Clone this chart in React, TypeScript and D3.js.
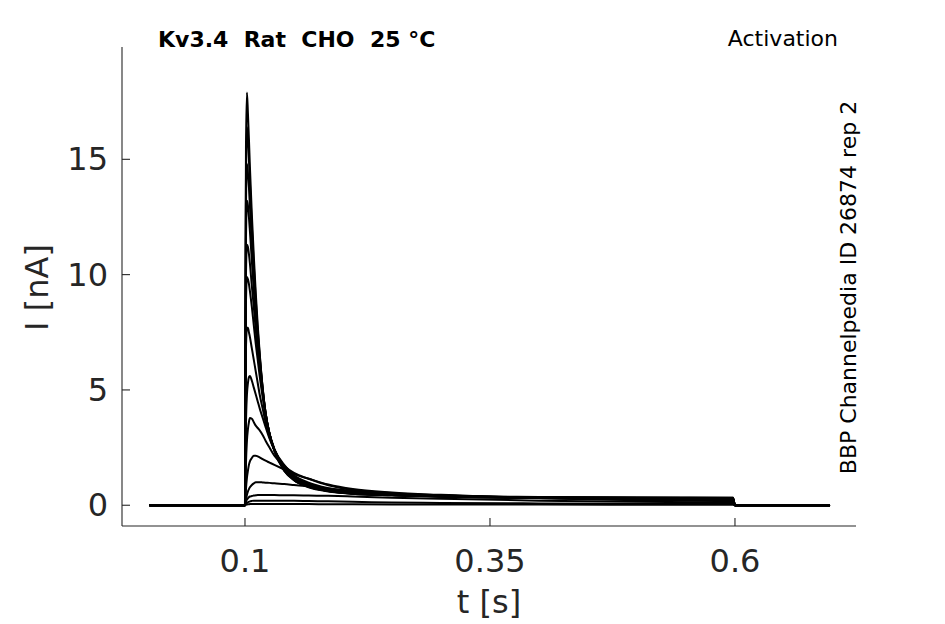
import { useMemo } from 'react';
import * as d3 from 'd3';

// --- Data ---
// shared time grid [s]
const times = [
    0.0025, 0.0995, 0.1, 0.1005, 0.101, 0.102, 0.103, 0.104, 0.105, 0.107,
    0.109, 0.111, 0.113, 0.115, 0.118, 0.121, 0.125, 0.13, 0.14, 0.15,
    0.165, 0.185, 0.21, 0.25, 0.3, 0.4, 0.5, 0.598, 0.6, 0.697,
];

// current traces [nA], one per voltage step
const trace1 = [0, 0, 0, 9, 15.5, 17.9, 17.0, 15.9, 14.7, 12.6, 10.8, 9.2, 7.8, 6.6, 5.1, 4.0, 3.1, 2.4, 1.55, 1.1, 0.8, 0.62, 0.52, 0.45, 0.4, 0.36, 0.34, 0.33, 0, 0];
const trace2 = [0, 0, 0, 8, 14.0, 16.4, 15.9, 15.0, 14.0, 12.1, 10.4, 8.9, 7.6, 6.5, 5.1, 4.0, 3.1, 2.35, 1.5, 1.08, 0.78, 0.6, 0.5, 0.44, 0.39, 0.35, 0.33, 0.32, 0, 0];
const trace3 = [0, 0, 0, 7, 13.0, 14.8, 14.4, 13.8, 13.0, 11.4, 9.9, 8.6, 7.4, 6.4, 5.05, 4.0, 3.1, 2.35, 1.5, 1.1, 0.8, 0.62, 0.5, 0.43, 0.38, 0.34, 0.32, 0.3, 0, 0];
const trace4 = [0, 0, 0, 6, 11.5, 13.2, 13.0, 12.5, 11.9, 10.6, 9.3, 8.2, 7.1, 6.2, 5.0, 4.0, 3.1, 2.4, 1.55, 1.12, 0.82, 0.62, 0.5, 0.43, 0.38, 0.34, 0.32, 0.3, 0, 0];
const trace5 = [0, 0, 0, 5, 10.0, 11.3, 11.2, 10.9, 10.5, 9.5, 8.6, 7.6, 6.7, 5.9, 4.85, 3.95, 3.1, 2.4, 1.6, 1.15, 0.84, 0.64, 0.52, 0.44, 0.38, 0.33, 0.3, 0.28, 0, 0];
const trace6 = [0, 0, 0, 4.5, 8.8, 9.9, 9.8, 9.6, 9.3, 8.6, 7.8, 7.0, 6.3, 5.6, 4.7, 3.9, 3.1, 2.45, 1.65, 1.2, 0.87, 0.66, 0.53, 0.44, 0.38, 0.32, 0.29, 0.27, 0, 0];
const trace7 = [0, 0, 0, 3.5, 6.8, 7.7, 7.7, 7.5, 7.3, 6.8, 6.3, 5.8, 5.3, 4.8, 4.2, 3.6, 2.95, 2.4, 1.7, 1.25, 0.92, 0.69, 0.55, 0.45, 0.38, 0.31, 0.27, 0.25, 0, 0];
const trace8 = [0, 0, 0, 1.5, 3.5, 4.8, 5.3, 5.55, 5.6, 5.4, 5.1, 4.8, 4.5, 4.2, 3.8, 3.4, 2.9, 2.4, 1.75, 1.3, 0.98, 0.74, 0.58, 0.47, 0.39, 0.31, 0.26, 0.23, 0, 0];
const trace9 = [0, 0, 0, 0.8, 1.8, 2.8, 3.3, 3.6, 3.78, 3.75, 3.6, 3.45, 3.35, 3.25, 3.05, 2.8, 2.5, 2.15, 1.7, 1.4, 1.15, 0.87, 0.67, 0.52, 0.43, 0.32, 0.26, 0.22, 0, 0];
const trace10 = [0, 0, 0, 0.3, 0.7, 1.2, 1.5, 1.75, 1.9, 2.05, 2.15, 2.15, 2.12, 2.08, 2.0, 1.93, 1.85, 1.75, 1.55, 1.35, 1.15, 0.9, 0.7, 0.55, 0.45, 0.32, 0.25, 0.2, 0, 0];
const trace11 = [0, 0, 0, 0.1, 0.25, 0.45, 0.6, 0.7, 0.78, 0.88, 0.95, 1.0, 1.0, 1.0, 0.99, 0.98, 0.97, 0.95, 0.92, 0.88, 0.82, 0.73, 0.62, 0.5, 0.42, 0.3, 0.22, 0.17, 0, 0];
const trace12 = [0, 0, 0, 0.05, 0.15, 0.25, 0.3, 0.35, 0.38, 0.4, 0.42, 0.43, 0.44, 0.44, 0.44, 0.44, 0.44, 0.44, 0.43, 0.43, 0.42, 0.41, 0.38, 0.33, 0.28, 0.2, 0.15, 0.12, 0, 0];
const trace13 = [0, 0, 0, 0.02, 0.06, 0.1, 0.13, 0.15, 0.17, 0.19, 0.2, 0.2, 0.2, 0.2, 0.2, 0.2, 0.2, 0.2, 0.19, 0.19, 0.18, 0.17, 0.15, 0.12, 0.1, 0.08, 0.07, 0.06, 0, 0];
const trace14 = [0, 0, 0, 0.01, 0.02, 0.03, 0.04, 0.04, 0.05, 0.05, 0.05, 0.05, 0.05, 0.05, 0.05, 0.05, 0.05, 0.05, 0.05, 0.05, 0.05, 0.04, 0.04, 0.03, 0.03, 0.03, 0.02, 0.02, 0, 0];

const traces = [trace1, trace2, trace3, trace4, trace5, trace6, trace7, trace8, trace9, trace10, trace11, trace12, trace13, trace14];

const xTicks = [0.1, 0.35, 0.6];
const xTickLabels = ['0.1', '0.35', '0.6'];
const yTicks = [0, 5, 10, 15];
const yTickLabels = ['0', '5', '10', '15'];

const titleText = 'Kv3.4  Rat  CHO  25 \u00B0C';
const protocolText = 'Activation';
const sourceText = 'BBP Channelpedia ID 26874 rep 2';

// --- Layout ---
const W = 945;
const H = 624;
const left = 122;
const right = 856;
const top = 47;
const bottom = 526;
const tickLen = 8;
const axisColor = '#262626';
const font = '"DejaVu Sans", sans-serif';

export default function App() {
    const x = useMemo(() => d3.scaleLinear().domain([-0.0255, 0.7235]).range([left, right]), []);
    const y = useMemo(() => d3.scaleLinear().domain([-0.9, 19.87]).range([bottom, top]), []);

    const line = d3.line<number>()
        .x((_, i) => x(times[i]))
        .y(v => y(v))
        .curve(d3.curveMonotoneX);

    return (
        <svg
            width={W}
            height={H}
            style={{ position: 'absolute', left: 0, top: 0, background: '#fff' }}
        >
            {/* traces */}
            <g fill="none" stroke="#000" strokeWidth={2} strokeLinejoin="round">
                {traces.map((tr, i) => (
                    <path key={i} d={line(tr) || ''} />
                ))}
            </g>

            {/* axes */}
            <g stroke={axisColor} strokeWidth={1.1} fill="none">
                <line x1={left} x2={left} y1={top} y2={bottom} />
                <line x1={left} x2={right} y1={bottom} y2={bottom} />
                {yTicks.map(t => (
                    <line key={'yt' + t} x1={left} x2={left + tickLen} y1={y(t)} y2={y(t)} />
                ))}
                {xTicks.map(t => (
                    <line key={'xt' + t} x1={x(t)} x2={x(t)} y1={bottom} y2={bottom - tickLen} />
                ))}
            </g>

            {/* tick labels */}
            <g fill={axisColor} fontFamily={font} fontSize={32}>
                {yTicks.map((t, i) => (
                    <text key={'yl' + t} x={108} y={y(t)} textAnchor="end" dominantBaseline="central">
                        {yTickLabels[i]}
                    </text>
                ))}
                {xTicks.map((t, i) => (
                    <text key={'xl' + t} x={x(t)} y={572} textAnchor="middle">
                        {xTickLabels[i]}
                    </text>
                ))}
            </g>

            {/* axis labels */}
            <text x={(left + right) / 2} y={613} textAnchor="middle" fontFamily={font} fontSize={32} fill={axisColor}>
                t [s]
            </text>
            <text
                transform={`translate(48,287.5) rotate(-90)`}
                textAnchor="middle"
                fontFamily={font}
                fontSize={32}
                fill={axisColor}
            >
                I [nA]
            </text>

            {/* titles */}
            <text x={158} y={47} fontFamily={font} fontSize={22} fontWeight="bold" fill="#000" style={{ whiteSpace: 'pre' }}>
                {titleText}
            </text>
            <text x={838} y={46} textAnchor="end" fontFamily={font} fontSize={22} fill="#000">
                {protocolText}
            </text>
            <text
                transform="translate(856,287.5) rotate(-90)"
                textAnchor="middle"
                fontFamily={font}
                fontSize={22}
                fill="#000"
            >
                {sourceText}
            </text>
        </svg>
    );
}
